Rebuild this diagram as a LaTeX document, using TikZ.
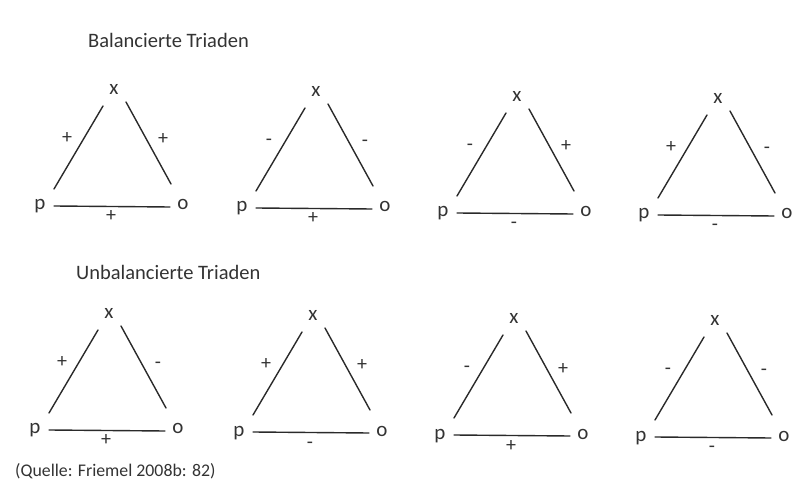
\documentclass[tikz,border=0pt]{standalone}
\usepackage{fontspec}
\setmainfont{Carlito}
\definecolor{ink}{HTML}{2A2A2A}
\definecolor{txt}{HTML}{333333}
\tikzset{
  edge/.style={draw=ink, line width=1.4pt, line cap=round},
  vlab/.style={text=txt, font=\fontsize{21}{21}\selectfont, inner sep=0pt, anchor=base},
  slab/.style={text=txt, font=\fontsize{20}{20}\selectfont, inner sep=0pt, anchor=base},
  title/.style={text=txt, font=\fontsize{20.5}{20.5}\selectfont, inner sep=0pt, anchor=base west},
}
\newcommand\mytriad[6]{%
\begin{scope}[shift={(#2,#3)}]
  \node[vlab] (#1x) at (0,5) {x};
  \node[vlab] (#1p) at (-74,120) {p};
  \node[vlab] (#1o) at (69,120) {o};
  \coordinate (#1a) at (-11,16);
  \coordinate (#1b) at (-60,99);
  \coordinate (#1c) at (12,12);
  \coordinate (#1d) at (57,94);
  \coordinate (#1e) at (-60,116);
  \coordinate (#1f) at (56,117);
  \draw[edge] (#1a) -- (#1b);
  \draw[edge] (#1c) -- (#1d);
  \draw[edge] (#1e) -- (#1f);
  \node[slab] (#1sl) at (-47,54) {#4};
  \node[slab] (#1sr) at (49,55) {#5};
  \node[slab] (#1sb) at (-3,132) {#6};
\end{scope}}
\begin{document}
\begin{tikzpicture}[x=1pt,y=-1pt]
\useasboundingbox (0,0) rectangle (793,486);
\node[title] (t1) at (88,48) {Balancierte Triaden};
\node[title] (t2) at (76,280) {Unbalancierte Triaden};
\mytriad{A}{114}{90}{+}{+}{+}
\mytriad{B}{316}{92}{-}{-}{+}
\mytriad{C}{517}{97}{-}{+}{-}
\mytriad{D}{718}{99}{+}{-}{-}
\mytriad{E}{109}{314}{+}{-}{+}
\mytriad{F}{313}{316}{+}{+}{-}
\mytriad{G}{514}{319}{-}{+}{+}
\mytriad{H}{715}{321}{-}{-}{-}
\node[text=txt, font=\fontsize{17.8}{17.8}\selectfont, inner sep=0pt, anchor=base west] (q) at (15,476) {(Quelle: Friemel 2008b: 82)};
\end{tikzpicture}
\end{document}
